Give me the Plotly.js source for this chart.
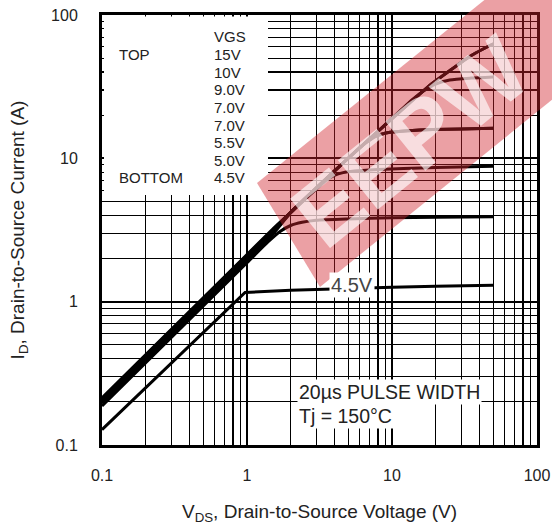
<!DOCTYPE html>
<html>
<head>
<meta charset="utf-8">
<script src="https://cdn.plot.ly/plotly-3.0.1.min.js"></script>
<style>
html,body{margin:0;padding:0;background:#fff;}
#chart{width:552px;height:530px;}
</style>
</head>
<body>
<div id="chart"></div>
<script>
// ---- data (VDS in V, ID in A) ----
const vds15 = [0.1, 1, 1.5, 2, 3, 5.14, 8.66, 14.8, 18, 25.1, 35, 50];
const id15  = [0.213, 2.13, 3.2, 4.2, 6.2, 10.3, 16.6, 26.9, 32, 41, 52, 63];
const vds10 = [0.1, 1, 1.5, 2, 3, 5.14, 8.66, 14.8, 18, 25.1, 35, 50];
const id10  = [0.21, 2.1, 3.15, 4.2, 6.2, 10.3, 16.6, 26.9, 32, 41, 52, 63];
const vds9  = [0.1, 1, 1.5, 2, 3, 5.14, 8.66, 14, 16.5, 20, 25, 35, 50];
const id9   = [0.207, 2.07, 3.1, 4.2, 6.2, 10.3, 16.6, 26, 29.5, 33, 35.2, 36.3, 37];
const vds7a = [0.1, 1, 1.5, 2, 3, 5.14, 6.5, 7.8, 9.7, 13, 19, 30, 50];
const id7a  = [0.203, 2.03, 3.05, 4.2, 6.2, 10.3, 12.7, 14.3, 15.2, 15.6, 15.9, 16.05, 16.2];
const vds7b = [0.1, 1, 1.5, 2, 3, 5.14, 6.5, 7.8, 9.7, 13, 19, 30, 50];
const id7b  = [0.2, 2.0, 3.0, 4.2, 6.2, 10.3, 12.7, 14.3, 15.2, 15.6, 15.9, 16.05, 16.2];
const vds55 = [0.1, 1, 1.5, 2, 3, 3.5, 4.0, 4.6, 5.5, 8, 12, 20, 50];
const id55  = [0.195, 1.95, 2.95, 4.15, 6.1, 7.0, 7.6, 7.95, 8.15, 8.35, 8.5, 8.62, 8.8];
const vds50 = [0.1, 1, 1.4, 1.7, 2.0, 2.4, 3, 5, 10, 20, 50];
const id50  = [0.187, 1.87, 2.62, 3.1, 3.4, 3.58, 3.7, 3.78, 3.85, 3.88, 3.92];
const vds45 = [0.1, 0.97, 2, 5, 10, 20, 50];
const id45  = [0.128, 1.16, 1.2, 1.24, 1.26, 1.28, 1.3];

const vgsLabels = ["15V", "10V", "9.0V", "7.0V", "7.0V", "5.5V", "5.0V", "4.5V"];
const xTickVals = [0.1, 1, 10, 100];
const xTickText = ["0.1", "1", "10", "100"];
const yTickVals = [0.1, 1, 10, 100];
const yTickText = ["0.1", "1", "10", "100"];

const series = [
  [vds15, id15], [vds10, id10], [vds9, id9], [vds7a, id7a],
  [vds7b, id7b], [vds55, id55], [vds50, id50], [vds45, id45]
];

const FONT = "Liberation Sans, Arial, Helvetica, sans-serif";
const TXT = "#222";

const traces = series.map((s, i) => ({
  x: s[0], y: s[1], type: "scatter", mode: "lines",
  name: vgsLabels[i],
  line: {color: "#000", width: 3, shape: i === 7 ? "linear" : "spline", smoothing: 0.6},
  hoverinfo: "skip"
}));

// plot-area pixel -> paper helpers (layout only)
const L = 102, R = 537, T = 15, B = 445;
const px = v => (v - L) / (R - L);
const py = v => (B - v) / (B - T);

const annotations = [];
// watermark text
annotations.push({
  xref: "paper", yref: "paper", x: px(410), y: py(142),
  xanchor: "center", yanchor: "middle", showarrow: false,
  text: "<b>EEPW</b>", textangle: -39, opacity: 0.65,
  font: {family: FONT, size: 92, color: "#ffffff"}
});
// legend block
annotations.push({xref: "paper", yref: "paper", x: px(212), y: py(37), xanchor: "left", yanchor: "middle",
  showarrow: false, text: "VGS", font: {family: FONT, size: 15, color: TXT}});
vgsLabels.forEach((t, i) => {
  annotations.push({xref: "paper", yref: "paper", x: px(212), y: py(54.6 + 17.6 * i),
    xanchor: "left", yanchor: "middle", showarrow: false, text: t,
    font: {family: FONT, size: 15, color: TXT}});
});
annotations.push({xref: "paper", yref: "paper", x: px(117), y: py(54.6), xanchor: "left", yanchor: "middle",
  showarrow: false, text: "TOP", font: {family: FONT, size: 15, color: TXT}});
annotations.push({xref: "paper", yref: "paper", x: px(117), y: py(177.8), xanchor: "left", yanchor: "middle",
  showarrow: false, text: "BOTTOM", font: {family: FONT, size: 15, color: TXT}});
// curve label
annotations.push({xref: "paper", yref: "paper", x: px(352), y: py(285), xanchor: "center", yanchor: "middle",
  showarrow: false, text: "4.5V", bgcolor: "#fff", borderpad: 1,
  font: {family: FONT, size: 20, color: "#444"}});
// conditions box
annotations.push({xref: "paper", yref: "paper", x: px(297), y: py(392), xanchor: "left", yanchor: "middle",
  showarrow: false, text: "20µs PULSE WIDTH", bgcolor: "#fff", borderpad: 1,
  font: {family: FONT, size: 19.5, color: TXT}});
annotations.push({xref: "paper", yref: "paper", x: px(297), y: py(416), xanchor: "left", yanchor: "middle",
  showarrow: false, text: "Tj = 150°C", bgcolor: "#fff", borderpad: 1,
  font: {family: FONT, size: 19.5, color: TXT}});

const shapes = [
  // white legend panel hiding the grid
  {type: "rect", xref: "paper", yref: "paper", x0: px(104), x1: px(268), y0: py(195), y1: py(16.5),
   fillcolor: "#fff", line: {width: 0}, layer: "above"},
  // watermark band
  {type: "path", xref: "paper", yref: "paper", layer: "above",
   path: "M " + px(257) + " " + py(183) + " L " + px(320) + " " + py(287) +
         " L " + px(600) + " " + py(61) + " L " + px(600) + " " + py(-93) + " Z",
   fillcolor: "rgba(209,35,45,0.43)", line: {width: 0}}
];

const axisCommon = {
  type: "log",
  showline: true, mirror: true, linecolor: "#000", linewidth: 3,
  showgrid: true, gridcolor: "#000", gridwidth: 2.2,
  zeroline: false, ticks: "", tickmode: "array",
  tickfont: {family: FONT, size: 16, color: TXT},
  minor: {dtick: "D1", showgrid: true, gridcolor: "#000", gridwidth: 1.2, ticks: ""}
};

const layout = {
  width: 552, height: 530,
  margin: {l: L, r: 552 - R, t: T, b: 530 - B, pad: 0},
  paper_bgcolor: "#fff", plot_bgcolor: "#fff",
  showlegend: false,
  xaxis: Object.assign({}, axisCommon, {
    range: [-1, 2], tickvals: xTickVals, ticktext: xTickText, ticklabelstandoff: 14,
    title: {text: "V<sub>DS</sub>, Drain-to-Source Voltage (V)", standoff: 22,
            font: {family: FONT, size: 19, color: TXT}}
  }),
  yaxis: Object.assign({}, axisCommon, {
    range: [-1, 2], tickvals: yTickVals, ticktext: yTickText, ticklabelstandoff: 18,
    title: {text: "I<sub>D</sub>, Drain-to-Source Current (A)", standoff: 22,
            font: {family: FONT, size: 19, color: TXT}}
  }),
  shapes: shapes,
  annotations: annotations
};

Plotly.newPlot("chart", traces, layout, {staticPlot: true, displayModeBar: false});
</script>
</body>
</html>
